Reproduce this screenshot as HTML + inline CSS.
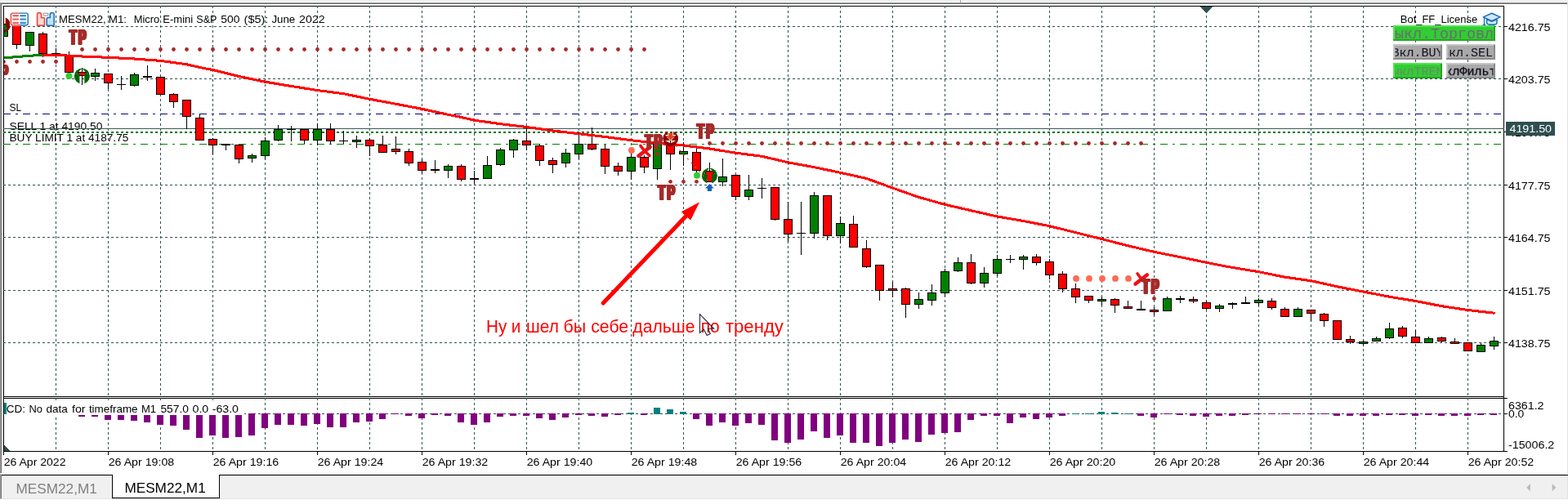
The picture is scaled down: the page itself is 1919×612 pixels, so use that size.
<!DOCTYPE html>
<html lang="ru"><head><meta charset="utf-8"><title>MESM22,M1</title>
<style>
html,body{margin:0;padding:0;background:#f0f0f0;overflow:hidden}
body{width:1919px;height:612px;position:relative;font-family:"Liberation Sans",Arial,sans-serif}
svg text{white-space:pre}
</style></head><body>
<svg width="1919" height="612" viewBox="0 0 1919 612" style="display:block;position:absolute;left:0;top:0">
<rect x="0" y="0" width="1919" height="612" fill="#f0f0f0"/>
<rect x="0" y="2" width="1175" height="1" fill="#fbfbfb"/>
<rect x="1175" y="0" width="1" height="3" fill="#a0a0a0"/>
<rect x="1176" y="0" width="1" height="3" fill="#ffffff"/>
<rect x="1178" y="1" width="6" height="2" fill="#f8f8f8"/>
<rect x="1" y="1" width="7" height="1" fill="#fbfbfb"/>
<rect x="0" y="3" width="1919" height="576" fill="#a0a0a0"/>
<rect x="1" y="4" width="1917" height="575" fill="#696969"/>
<rect x="2" y="5" width="1916" height="574" fill="#ffffff"/>
<rect x="1918" y="3" width="1" height="576" fill="#e3e3e3"/>
<g shape-rendering="crispEdges">
<rect x="4" y="7" width="1837" height="1" fill="#000"/>
<rect x="4" y="7" width="1" height="546" fill="#000"/>
<rect x="1840" y="7" width="1" height="546" fill="#000"/>
<rect x="4" y="485" width="1837" height="1" fill="#000"/>
<rect x="4" y="487" width="1837" height="1" fill="#000"/>
<rect x="4" y="552" width="1837" height="1" fill="#000"/>
<line x1="68.5" y1="7" x2="68.5" y2="485" stroke="#2f4f4f" stroke-width="1" stroke-dasharray="3 3" stroke-dashoffset="0"/>
<line x1="68.5" y1="487" x2="68.5" y2="552" stroke="#2f4f4f" stroke-width="1" stroke-dasharray="3 3" stroke-dashoffset="0"/>
<line x1="132.5" y1="7" x2="132.5" y2="485" stroke="#2f4f4f" stroke-width="1" stroke-dasharray="3 3" stroke-dashoffset="0"/>
<line x1="132.5" y1="487" x2="132.5" y2="552" stroke="#2f4f4f" stroke-width="1" stroke-dasharray="3 3" stroke-dashoffset="0"/>
<line x1="196.5" y1="7" x2="196.5" y2="485" stroke="#2f4f4f" stroke-width="1" stroke-dasharray="3 3" stroke-dashoffset="0"/>
<line x1="196.5" y1="487" x2="196.5" y2="552" stroke="#2f4f4f" stroke-width="1" stroke-dasharray="3 3" stroke-dashoffset="0"/>
<line x1="260.5" y1="7" x2="260.5" y2="485" stroke="#2f4f4f" stroke-width="1" stroke-dasharray="3 3" stroke-dashoffset="0"/>
<line x1="260.5" y1="487" x2="260.5" y2="552" stroke="#2f4f4f" stroke-width="1" stroke-dasharray="3 3" stroke-dashoffset="0"/>
<line x1="324.5" y1="7" x2="324.5" y2="485" stroke="#2f4f4f" stroke-width="1" stroke-dasharray="3 3" stroke-dashoffset="0"/>
<line x1="324.5" y1="487" x2="324.5" y2="552" stroke="#2f4f4f" stroke-width="1" stroke-dasharray="3 3" stroke-dashoffset="0"/>
<line x1="388.5" y1="7" x2="388.5" y2="485" stroke="#2f4f4f" stroke-width="1" stroke-dasharray="3 3" stroke-dashoffset="0"/>
<line x1="388.5" y1="487" x2="388.5" y2="552" stroke="#2f4f4f" stroke-width="1" stroke-dasharray="3 3" stroke-dashoffset="0"/>
<line x1="452.5" y1="7" x2="452.5" y2="485" stroke="#2f4f4f" stroke-width="1" stroke-dasharray="3 3" stroke-dashoffset="0"/>
<line x1="452.5" y1="487" x2="452.5" y2="552" stroke="#2f4f4f" stroke-width="1" stroke-dasharray="3 3" stroke-dashoffset="0"/>
<line x1="516.5" y1="7" x2="516.5" y2="485" stroke="#2f4f4f" stroke-width="1" stroke-dasharray="3 3" stroke-dashoffset="0"/>
<line x1="516.5" y1="487" x2="516.5" y2="552" stroke="#2f4f4f" stroke-width="1" stroke-dasharray="3 3" stroke-dashoffset="0"/>
<line x1="580.5" y1="7" x2="580.5" y2="485" stroke="#2f4f4f" stroke-width="1" stroke-dasharray="3 3" stroke-dashoffset="0"/>
<line x1="580.5" y1="487" x2="580.5" y2="552" stroke="#2f4f4f" stroke-width="1" stroke-dasharray="3 3" stroke-dashoffset="0"/>
<line x1="644.5" y1="7" x2="644.5" y2="485" stroke="#2f4f4f" stroke-width="1" stroke-dasharray="3 3" stroke-dashoffset="0"/>
<line x1="644.5" y1="487" x2="644.5" y2="552" stroke="#2f4f4f" stroke-width="1" stroke-dasharray="3 3" stroke-dashoffset="0"/>
<line x1="708.5" y1="7" x2="708.5" y2="485" stroke="#2f4f4f" stroke-width="1" stroke-dasharray="3 3" stroke-dashoffset="0"/>
<line x1="708.5" y1="487" x2="708.5" y2="552" stroke="#2f4f4f" stroke-width="1" stroke-dasharray="3 3" stroke-dashoffset="0"/>
<line x1="772.5" y1="7" x2="772.5" y2="485" stroke="#2f4f4f" stroke-width="1" stroke-dasharray="3 3" stroke-dashoffset="0"/>
<line x1="772.5" y1="487" x2="772.5" y2="552" stroke="#2f4f4f" stroke-width="1" stroke-dasharray="3 3" stroke-dashoffset="0"/>
<line x1="836.5" y1="7" x2="836.5" y2="485" stroke="#2f4f4f" stroke-width="1" stroke-dasharray="3 3" stroke-dashoffset="0"/>
<line x1="836.5" y1="487" x2="836.5" y2="552" stroke="#2f4f4f" stroke-width="1" stroke-dasharray="3 3" stroke-dashoffset="0"/>
<line x1="900.5" y1="7" x2="900.5" y2="485" stroke="#2f4f4f" stroke-width="1" stroke-dasharray="3 3" stroke-dashoffset="0"/>
<line x1="900.5" y1="487" x2="900.5" y2="552" stroke="#2f4f4f" stroke-width="1" stroke-dasharray="3 3" stroke-dashoffset="0"/>
<line x1="964.5" y1="7" x2="964.5" y2="485" stroke="#2f4f4f" stroke-width="1" stroke-dasharray="3 3" stroke-dashoffset="0"/>
<line x1="964.5" y1="487" x2="964.5" y2="552" stroke="#2f4f4f" stroke-width="1" stroke-dasharray="3 3" stroke-dashoffset="0"/>
<line x1="1028.5" y1="7" x2="1028.5" y2="485" stroke="#2f4f4f" stroke-width="1" stroke-dasharray="3 3" stroke-dashoffset="0"/>
<line x1="1028.5" y1="487" x2="1028.5" y2="552" stroke="#2f4f4f" stroke-width="1" stroke-dasharray="3 3" stroke-dashoffset="0"/>
<line x1="1092.5" y1="7" x2="1092.5" y2="485" stroke="#2f4f4f" stroke-width="1" stroke-dasharray="3 3" stroke-dashoffset="0"/>
<line x1="1092.5" y1="487" x2="1092.5" y2="552" stroke="#2f4f4f" stroke-width="1" stroke-dasharray="3 3" stroke-dashoffset="0"/>
<line x1="1156.5" y1="7" x2="1156.5" y2="485" stroke="#2f4f4f" stroke-width="1" stroke-dasharray="3 3" stroke-dashoffset="0"/>
<line x1="1156.5" y1="487" x2="1156.5" y2="552" stroke="#2f4f4f" stroke-width="1" stroke-dasharray="3 3" stroke-dashoffset="0"/>
<line x1="1220.5" y1="7" x2="1220.5" y2="485" stroke="#2f4f4f" stroke-width="1" stroke-dasharray="3 3" stroke-dashoffset="0"/>
<line x1="1220.5" y1="487" x2="1220.5" y2="552" stroke="#2f4f4f" stroke-width="1" stroke-dasharray="3 3" stroke-dashoffset="0"/>
<line x1="1284.5" y1="7" x2="1284.5" y2="485" stroke="#2f4f4f" stroke-width="1" stroke-dasharray="3 3" stroke-dashoffset="0"/>
<line x1="1284.5" y1="487" x2="1284.5" y2="552" stroke="#2f4f4f" stroke-width="1" stroke-dasharray="3 3" stroke-dashoffset="0"/>
<line x1="1348.5" y1="7" x2="1348.5" y2="485" stroke="#2f4f4f" stroke-width="1" stroke-dasharray="3 3" stroke-dashoffset="0"/>
<line x1="1348.5" y1="487" x2="1348.5" y2="552" stroke="#2f4f4f" stroke-width="1" stroke-dasharray="3 3" stroke-dashoffset="0"/>
<line x1="1412.5" y1="7" x2="1412.5" y2="485" stroke="#2f4f4f" stroke-width="1" stroke-dasharray="3 3" stroke-dashoffset="0"/>
<line x1="1412.5" y1="487" x2="1412.5" y2="552" stroke="#2f4f4f" stroke-width="1" stroke-dasharray="3 3" stroke-dashoffset="0"/>
<line x1="1476.5" y1="7" x2="1476.5" y2="485" stroke="#2f4f4f" stroke-width="1" stroke-dasharray="3 3" stroke-dashoffset="0"/>
<line x1="1476.5" y1="487" x2="1476.5" y2="552" stroke="#2f4f4f" stroke-width="1" stroke-dasharray="3 3" stroke-dashoffset="0"/>
<line x1="1540.5" y1="7" x2="1540.5" y2="485" stroke="#2f4f4f" stroke-width="1" stroke-dasharray="3 3" stroke-dashoffset="0"/>
<line x1="1540.5" y1="487" x2="1540.5" y2="552" stroke="#2f4f4f" stroke-width="1" stroke-dasharray="3 3" stroke-dashoffset="0"/>
<line x1="1604.5" y1="7" x2="1604.5" y2="485" stroke="#2f4f4f" stroke-width="1" stroke-dasharray="3 3" stroke-dashoffset="0"/>
<line x1="1604.5" y1="487" x2="1604.5" y2="552" stroke="#2f4f4f" stroke-width="1" stroke-dasharray="3 3" stroke-dashoffset="0"/>
<line x1="1668.5" y1="7" x2="1668.5" y2="485" stroke="#2f4f4f" stroke-width="1" stroke-dasharray="3 3" stroke-dashoffset="0"/>
<line x1="1668.5" y1="487" x2="1668.5" y2="552" stroke="#2f4f4f" stroke-width="1" stroke-dasharray="3 3" stroke-dashoffset="0"/>
<line x1="1732.5" y1="7" x2="1732.5" y2="485" stroke="#2f4f4f" stroke-width="1" stroke-dasharray="3 3" stroke-dashoffset="0"/>
<line x1="1732.5" y1="487" x2="1732.5" y2="552" stroke="#2f4f4f" stroke-width="1" stroke-dasharray="3 3" stroke-dashoffset="0"/>
<line x1="1796.5" y1="7" x2="1796.5" y2="485" stroke="#2f4f4f" stroke-width="1" stroke-dasharray="3 3" stroke-dashoffset="0"/>
<line x1="1796.5" y1="487" x2="1796.5" y2="552" stroke="#2f4f4f" stroke-width="1" stroke-dasharray="3 3" stroke-dashoffset="0"/>
<line x1="4" y1="32.5" x2="1840" y2="32.5" stroke="#2f4f4f" stroke-width="1" stroke-dasharray="3 3"/>
<line x1="4" y1="96.5" x2="1840" y2="96.5" stroke="#2f4f4f" stroke-width="1" stroke-dasharray="3 3"/>
<line x1="4" y1="161.5" x2="1840" y2="161.5" stroke="#2f4f4f" stroke-width="1" stroke-dasharray="3 3"/>
<line x1="4" y1="226.5" x2="1840" y2="226.5" stroke="#2f4f4f" stroke-width="1" stroke-dasharray="3 3"/>
<line x1="4" y1="290.5" x2="1840" y2="290.5" stroke="#2f4f4f" stroke-width="1" stroke-dasharray="3 3"/>
<line x1="4" y1="355.5" x2="1840" y2="355.5" stroke="#2f4f4f" stroke-width="1" stroke-dasharray="3 3"/>
<line x1="4" y1="419.5" x2="1840" y2="419.5" stroke="#2f4f4f" stroke-width="1" stroke-dasharray="3 3"/>
</g>
<text x="72.1" y="28.3" font-family="&quot;Liberation Sans&quot;, Arial, sans-serif" font-size="13" fill="#000" text-anchor="start" textLength="57.5" lengthAdjust="spacingAndGlyphs" xml:space="preserve">MESM22,</text>
<text x="132.7" y="28.3" font-family="&quot;Liberation Sans&quot;, Arial, sans-serif" font-size="13" fill="#000" text-anchor="start" textLength="22.4" lengthAdjust="spacingAndGlyphs" xml:space="preserve">M1:</text>
<text x="163.7" y="28.3" font-family="&quot;Liberation Sans&quot;, Arial, sans-serif" font-size="13" fill="#000" text-anchor="start" textLength="31.6" lengthAdjust="spacingAndGlyphs" xml:space="preserve">Micro</text>
<text x="199.2" y="28.3" font-family="&quot;Liberation Sans&quot;, Arial, sans-serif" font-size="13" fill="#000" text-anchor="start" textLength="37.1" lengthAdjust="spacingAndGlyphs" xml:space="preserve">E-mini</text>
<text x="240.3" y="28.3" font-family="&quot;Liberation Sans&quot;, Arial, sans-serif" font-size="13" fill="#000" text-anchor="start" textLength="25.2" lengthAdjust="spacingAndGlyphs" xml:space="preserve">S&amp;P</text>
<text x="270.3" y="28.3" font-family="&quot;Liberation Sans&quot;, Arial, sans-serif" font-size="13" fill="#000" text-anchor="start" textLength="23.1" lengthAdjust="spacingAndGlyphs" xml:space="preserve">500</text>
<text x="298.6" y="28.3" font-family="&quot;Liberation Sans&quot;, Arial, sans-serif" font-size="13" fill="#000" text-anchor="start" textLength="29.8" lengthAdjust="spacingAndGlyphs" xml:space="preserve">($5):</text>
<text x="332.4" y="28.3" font-family="&quot;Liberation Sans&quot;, Arial, sans-serif" font-size="13" fill="#000" text-anchor="start" textLength="28.9" lengthAdjust="spacingAndGlyphs" xml:space="preserve">June</text>
<text x="366.1" y="28.3" font-family="&quot;Liberation Sans&quot;, Arial, sans-serif" font-size="13" fill="#000" text-anchor="start" textLength="31.6" lengthAdjust="spacingAndGlyphs" xml:space="preserve">2022</text>
<text x="11.5" y="136" font-family="&quot;Liberation Sans&quot;, Arial, sans-serif" font-size="13" fill="#000" text-anchor="start" textLength="14.7" lengthAdjust="spacingAndGlyphs" xml:space="preserve">SL</text>
<text x="11.5" y="159" font-family="&quot;Liberation Sans&quot;, Arial, sans-serif" font-size="13" fill="#000" text-anchor="start" textLength="113.8" lengthAdjust="spacingAndGlyphs" xml:space="preserve">SELL 1 at 4190.50</text>
<text x="11.5" y="173" font-family="&quot;Liberation Sans&quot;, Arial, sans-serif" font-size="13" fill="#000" text-anchor="start" textLength="145.8" lengthAdjust="spacingAndGlyphs" xml:space="preserve">BUY LIMIT 1 at 4187.75</text>
<clipPath id="chartclip"><rect x="5" y="8" width="1835" height="477"/></clipPath>
<g shape-rendering="crispEdges">
<line x1="4" y1="139.5" x2="1840" y2="139.5" stroke="#00008b" stroke-width="1" stroke-dasharray="9 6 3 6"/>
<line x1="4" y1="157.5" x2="1841" y2="157.5" stroke="#3a5a5a" stroke-width="1"/>
<line x1="4" y1="161.5" x2="1840" y2="161.5" stroke="#0a6a1a" stroke-width="1" stroke-dasharray="3 3"/>
<line x1="4" y1="162.5" x2="1840" y2="162.5" stroke="#008000" stroke-width="1" stroke-dasharray="3 3"/>
<line x1="4" y1="176.5" x2="1840" y2="176.5" stroke="#008000" stroke-width="1" stroke-dasharray="9 6 3 6"/>
<g clip-path="url(#chartclip)">
<rect x="4" y="29" width="1" height="16" fill="#000"/>
<rect x="-1" y="29" width="11" height="16" fill="#000"/>
<rect x="0" y="30" width="9" height="14" fill="#008000"/>
<rect x="20" y="20" width="1" height="40" fill="#000"/>
<rect x="15" y="20" width="11" height="35" fill="#000"/>
<rect x="16" y="21" width="9" height="33" fill="#ff0000"/>
<rect x="36" y="39" width="1" height="24" fill="#000"/>
<rect x="31" y="39" width="11" height="17" fill="#000"/>
<rect x="32" y="40" width="9" height="15" fill="#008000"/>
<rect x="52" y="39" width="1" height="31" fill="#000"/>
<rect x="47" y="41" width="11" height="25" fill="#000"/>
<rect x="48" y="42" width="9" height="23" fill="#ff0000"/>
<rect x="68" y="59" width="1" height="12" fill="#000"/>
<rect x="63" y="65" width="11" height="1" fill="#000"/>
<rect x="84" y="63" width="1" height="26" fill="#000"/>
<rect x="79" y="67" width="11" height="22" fill="#000"/>
<rect x="80" y="68" width="9" height="20" fill="#ff0000"/>
<rect x="100" y="83" width="1" height="21" fill="#000"/>
<rect x="95" y="88" width="11" height="5" fill="#000"/>
<rect x="96" y="89" width="9" height="3" fill="#ff0000"/>
<rect x="116" y="84" width="1" height="15" fill="#000"/>
<rect x="111" y="89" width="11" height="5" fill="#000"/>
<rect x="112" y="90" width="9" height="3" fill="#008000"/>
<rect x="132" y="90" width="1" height="19" fill="#000"/>
<rect x="127" y="90" width="11" height="12" fill="#000"/>
<rect x="128" y="91" width="9" height="10" fill="#ff0000"/>
<rect x="148" y="93" width="1" height="17" fill="#000"/>
<rect x="143" y="103" width="11" height="1" fill="#000"/>
<rect x="164" y="89" width="1" height="17" fill="#000"/>
<rect x="159" y="91" width="11" height="14" fill="#000"/>
<rect x="160" y="92" width="9" height="12" fill="#008000"/>
<rect x="180" y="80" width="1" height="19" fill="#000"/>
<rect x="175" y="93" width="11" height="2" fill="#000"/>
<rect x="196" y="94" width="1" height="22" fill="#000"/>
<rect x="191" y="94" width="11" height="22" fill="#000"/>
<rect x="192" y="95" width="9" height="20" fill="#ff0000"/>
<rect x="212" y="114" width="1" height="18" fill="#000"/>
<rect x="207" y="115" width="11" height="10" fill="#000"/>
<rect x="208" y="116" width="9" height="8" fill="#ff0000"/>
<rect x="228" y="122" width="1" height="36" fill="#000"/>
<rect x="223" y="122" width="11" height="21" fill="#000"/>
<rect x="224" y="123" width="9" height="19" fill="#ff0000"/>
<rect x="244" y="140" width="1" height="32" fill="#000"/>
<rect x="239" y="144" width="11" height="28" fill="#000"/>
<rect x="240" y="145" width="9" height="26" fill="#ff0000"/>
<rect x="260" y="169" width="1" height="20" fill="#000"/>
<rect x="255" y="170" width="11" height="8" fill="#000"/>
<rect x="256" y="171" width="9" height="6" fill="#ff0000"/>
<rect x="276" y="177" width="1" height="7" fill="#000"/>
<rect x="271" y="176" width="11" height="2" fill="#000"/>
<rect x="292" y="177" width="1" height="23" fill="#000"/>
<rect x="287" y="177" width="11" height="18" fill="#000"/>
<rect x="288" y="178" width="9" height="16" fill="#ff0000"/>
<rect x="308" y="188" width="1" height="11" fill="#000"/>
<rect x="303" y="190" width="11" height="4" fill="#000"/>
<rect x="304" y="191" width="9" height="2" fill="#008000"/>
<rect x="324" y="168" width="1" height="27" fill="#000"/>
<rect x="319" y="172" width="11" height="19" fill="#000"/>
<rect x="320" y="173" width="9" height="17" fill="#008000"/>
<rect x="340" y="153" width="1" height="20" fill="#000"/>
<rect x="335" y="158" width="11" height="14" fill="#000"/>
<rect x="336" y="159" width="9" height="12" fill="#008000"/>
<rect x="356" y="154" width="1" height="19" fill="#000"/>
<rect x="351" y="158" width="11" height="1" fill="#000"/>
<rect x="372" y="158" width="1" height="18" fill="#000"/>
<rect x="367" y="158" width="11" height="14" fill="#000"/>
<rect x="368" y="159" width="9" height="12" fill="#ff0000"/>
<rect x="388" y="151" width="1" height="27" fill="#000"/>
<rect x="383" y="158" width="11" height="14" fill="#000"/>
<rect x="384" y="159" width="9" height="12" fill="#008000"/>
<rect x="404" y="151" width="1" height="25" fill="#000"/>
<rect x="399" y="158" width="11" height="15" fill="#000"/>
<rect x="400" y="159" width="9" height="13" fill="#ff0000"/>
<rect x="420" y="160" width="1" height="16" fill="#000"/>
<rect x="415" y="172" width="11" height="1" fill="#000"/>
<rect x="436" y="166" width="1" height="15" fill="#000"/>
<rect x="431" y="171" width="11" height="3" fill="#000"/>
<rect x="432" y="172" width="9" height="1" fill="#008000"/>
<rect x="452" y="169" width="1" height="22" fill="#000"/>
<rect x="447" y="171" width="11" height="8" fill="#000"/>
<rect x="448" y="172" width="9" height="6" fill="#ff0000"/>
<rect x="468" y="166" width="1" height="21" fill="#000"/>
<rect x="463" y="177" width="11" height="10" fill="#000"/>
<rect x="464" y="178" width="9" height="8" fill="#ff0000"/>
<rect x="484" y="167" width="1" height="22" fill="#000"/>
<rect x="479" y="182" width="11" height="4" fill="#000"/>
<rect x="480" y="183" width="9" height="2" fill="#ff0000"/>
<rect x="500" y="182" width="1" height="21" fill="#000"/>
<rect x="495" y="185" width="11" height="15" fill="#000"/>
<rect x="496" y="186" width="9" height="13" fill="#ff0000"/>
<rect x="516" y="195" width="1" height="17" fill="#000"/>
<rect x="511" y="198" width="11" height="11" fill="#000"/>
<rect x="512" y="199" width="9" height="9" fill="#ff0000"/>
<rect x="532" y="196" width="1" height="16" fill="#000"/>
<rect x="527" y="207" width="11" height="2" fill="#000"/>
<rect x="548" y="201" width="1" height="17" fill="#000"/>
<rect x="543" y="203" width="11" height="6" fill="#000"/>
<rect x="544" y="204" width="9" height="4" fill="#008000"/>
<rect x="564" y="201" width="1" height="21" fill="#000"/>
<rect x="559" y="203" width="11" height="17" fill="#000"/>
<rect x="560" y="204" width="9" height="15" fill="#ff0000"/>
<rect x="580" y="209" width="1" height="16" fill="#000"/>
<rect x="575" y="218" width="11" height="2" fill="#000"/>
<rect x="596" y="191" width="1" height="28" fill="#000"/>
<rect x="591" y="202" width="11" height="17" fill="#000"/>
<rect x="592" y="203" width="9" height="15" fill="#008000"/>
<rect x="612" y="181" width="1" height="22" fill="#000"/>
<rect x="607" y="183" width="11" height="19" fill="#000"/>
<rect x="608" y="184" width="9" height="17" fill="#008000"/>
<rect x="628" y="170" width="1" height="23" fill="#000"/>
<rect x="623" y="171" width="11" height="13" fill="#000"/>
<rect x="624" y="172" width="9" height="11" fill="#008000"/>
<rect x="644" y="156" width="1" height="28" fill="#000"/>
<rect x="639" y="172" width="11" height="6" fill="#000"/>
<rect x="640" y="173" width="9" height="4" fill="#ff0000"/>
<rect x="660" y="176" width="1" height="27" fill="#000"/>
<rect x="655" y="178" width="11" height="19" fill="#000"/>
<rect x="656" y="179" width="9" height="17" fill="#ff0000"/>
<rect x="676" y="193" width="1" height="19" fill="#000"/>
<rect x="671" y="196" width="11" height="6" fill="#000"/>
<rect x="672" y="197" width="9" height="4" fill="#ff0000"/>
<rect x="692" y="182" width="1" height="23" fill="#000"/>
<rect x="687" y="187" width="11" height="13" fill="#000"/>
<rect x="688" y="188" width="9" height="11" fill="#008000"/>
<rect x="708" y="164" width="1" height="31" fill="#000"/>
<rect x="703" y="176" width="11" height="13" fill="#000"/>
<rect x="704" y="177" width="9" height="11" fill="#008000"/>
<rect x="724" y="156" width="1" height="28" fill="#000"/>
<rect x="719" y="176" width="11" height="7" fill="#000"/>
<rect x="720" y="177" width="9" height="5" fill="#ff0000"/>
<rect x="740" y="177" width="1" height="36" fill="#000"/>
<rect x="735" y="182" width="11" height="22" fill="#000"/>
<rect x="736" y="183" width="9" height="20" fill="#ff0000"/>
<rect x="756" y="199" width="1" height="16" fill="#000"/>
<rect x="751" y="203" width="11" height="7" fill="#000"/>
<rect x="752" y="204" width="9" height="5" fill="#ff0000"/>
<rect x="772" y="188" width="1" height="32" fill="#000"/>
<rect x="767" y="192" width="11" height="18" fill="#000"/>
<rect x="768" y="193" width="9" height="16" fill="#008000"/>
<rect x="788" y="190" width="1" height="22" fill="#000"/>
<rect x="783" y="192" width="11" height="13" fill="#000"/>
<rect x="784" y="193" width="9" height="11" fill="#ff0000"/>
<rect x="804" y="176" width="1" height="44" fill="#000"/>
<rect x="799" y="176" width="11" height="31" fill="#000"/>
<rect x="800" y="177" width="9" height="29" fill="#008000"/>
<rect x="820" y="172" width="1" height="36" fill="#000"/>
<rect x="815" y="177" width="11" height="12" fill="#000"/>
<rect x="816" y="178" width="9" height="10" fill="#ff0000"/>
<rect x="836" y="174" width="1" height="29" fill="#000"/>
<rect x="831" y="185" width="11" height="4" fill="#000"/>
<rect x="832" y="186" width="9" height="2" fill="#008000"/>
<rect x="852" y="180" width="1" height="31" fill="#000"/>
<rect x="847" y="186" width="11" height="23" fill="#000"/>
<rect x="848" y="187" width="9" height="21" fill="#ff0000"/>
<rect x="868" y="199" width="1" height="24" fill="#000"/>
<rect x="863" y="209" width="11" height="14" fill="#000"/>
<rect x="864" y="210" width="9" height="12" fill="#ff0000"/>
<rect x="884" y="194" width="1" height="34" fill="#000"/>
<rect x="879" y="216" width="11" height="7" fill="#000"/>
<rect x="880" y="217" width="9" height="5" fill="#008000"/>
<rect x="900" y="214" width="1" height="31" fill="#000"/>
<rect x="895" y="214" width="11" height="27" fill="#000"/>
<rect x="896" y="215" width="9" height="25" fill="#ff0000"/>
<rect x="916" y="214" width="1" height="31" fill="#000"/>
<rect x="911" y="232" width="11" height="9" fill="#000"/>
<rect x="912" y="233" width="9" height="7" fill="#008000"/>
<rect x="932" y="218" width="1" height="25" fill="#000"/>
<rect x="927" y="230" width="11" height="1" fill="#000"/>
<rect x="948" y="229" width="1" height="41" fill="#000"/>
<rect x="943" y="229" width="11" height="40" fill="#000"/>
<rect x="944" y="230" width="9" height="38" fill="#ff0000"/>
<rect x="964" y="247" width="1" height="49" fill="#000"/>
<rect x="959" y="268" width="11" height="19" fill="#000"/>
<rect x="960" y="269" width="9" height="17" fill="#ff0000"/>
<rect x="980" y="247" width="1" height="65" fill="#000"/>
<rect x="975" y="285" width="11" height="1" fill="#000"/>
<rect x="996" y="235" width="1" height="57" fill="#000"/>
<rect x="991" y="239" width="11" height="47" fill="#000"/>
<rect x="992" y="240" width="9" height="45" fill="#008000"/>
<rect x="1012" y="239" width="1" height="55" fill="#000"/>
<rect x="1007" y="239" width="11" height="50" fill="#000"/>
<rect x="1008" y="240" width="9" height="48" fill="#ff0000"/>
<rect x="1028" y="265" width="1" height="33" fill="#000"/>
<rect x="1023" y="273" width="11" height="16" fill="#000"/>
<rect x="1024" y="274" width="9" height="14" fill="#008000"/>
<rect x="1044" y="264" width="1" height="39" fill="#000"/>
<rect x="1039" y="274" width="11" height="29" fill="#000"/>
<rect x="1040" y="275" width="9" height="27" fill="#ff0000"/>
<rect x="1060" y="294" width="1" height="34" fill="#000"/>
<rect x="1055" y="304" width="11" height="23" fill="#000"/>
<rect x="1056" y="305" width="9" height="21" fill="#ff0000"/>
<rect x="1076" y="324" width="1" height="44" fill="#000"/>
<rect x="1071" y="324" width="11" height="32" fill="#000"/>
<rect x="1072" y="325" width="9" height="30" fill="#ff0000"/>
<rect x="1092" y="345" width="1" height="19" fill="#000"/>
<rect x="1087" y="353" width="11" height="3" fill="#000"/>
<rect x="1088" y="354" width="9" height="1" fill="#ff0000"/>
<rect x="1108" y="352" width="1" height="37" fill="#000"/>
<rect x="1103" y="353" width="11" height="20" fill="#000"/>
<rect x="1104" y="354" width="9" height="18" fill="#ff0000"/>
<rect x="1124" y="358" width="1" height="20" fill="#000"/>
<rect x="1119" y="366" width="11" height="7" fill="#000"/>
<rect x="1120" y="367" width="9" height="5" fill="#008000"/>
<rect x="1140" y="348" width="1" height="26" fill="#000"/>
<rect x="1135" y="358" width="11" height="10" fill="#000"/>
<rect x="1136" y="359" width="9" height="8" fill="#008000"/>
<rect x="1156" y="329" width="1" height="34" fill="#000"/>
<rect x="1151" y="332" width="11" height="27" fill="#000"/>
<rect x="1152" y="333" width="9" height="25" fill="#008000"/>
<rect x="1172" y="315" width="1" height="18" fill="#000"/>
<rect x="1167" y="321" width="11" height="11" fill="#000"/>
<rect x="1168" y="322" width="9" height="9" fill="#008000"/>
<rect x="1188" y="311" width="1" height="37" fill="#000"/>
<rect x="1183" y="321" width="11" height="26" fill="#000"/>
<rect x="1184" y="322" width="9" height="24" fill="#ff0000"/>
<rect x="1204" y="327" width="1" height="25" fill="#000"/>
<rect x="1199" y="334" width="11" height="13" fill="#000"/>
<rect x="1200" y="335" width="9" height="11" fill="#008000"/>
<rect x="1220" y="312" width="1" height="26" fill="#000"/>
<rect x="1215" y="317" width="11" height="18" fill="#000"/>
<rect x="1216" y="318" width="9" height="16" fill="#008000"/>
<rect x="1236" y="312" width="1" height="10" fill="#000"/>
<rect x="1231" y="317" width="11" height="1" fill="#000"/>
<rect x="1252" y="312" width="1" height="18" fill="#000"/>
<rect x="1247" y="314" width="11" height="4" fill="#000"/>
<rect x="1248" y="315" width="9" height="2" fill="#008000"/>
<rect x="1268" y="311" width="1" height="14" fill="#000"/>
<rect x="1263" y="314" width="11" height="8" fill="#000"/>
<rect x="1264" y="315" width="9" height="6" fill="#ff0000"/>
<rect x="1284" y="317" width="1" height="25" fill="#000"/>
<rect x="1279" y="320" width="11" height="17" fill="#000"/>
<rect x="1280" y="321" width="9" height="15" fill="#ff0000"/>
<rect x="1300" y="332" width="1" height="26" fill="#000"/>
<rect x="1295" y="335" width="11" height="19" fill="#000"/>
<rect x="1296" y="336" width="9" height="17" fill="#ff0000"/>
<rect x="1316" y="347" width="1" height="24" fill="#000"/>
<rect x="1311" y="353" width="11" height="11" fill="#000"/>
<rect x="1312" y="354" width="9" height="9" fill="#ff0000"/>
<rect x="1332" y="362" width="1" height="9" fill="#000"/>
<rect x="1327" y="362" width="11" height="6" fill="#000"/>
<rect x="1328" y="363" width="9" height="4" fill="#ff0000"/>
<rect x="1348" y="363" width="1" height="11" fill="#000"/>
<rect x="1343" y="366" width="11" height="3" fill="#000"/>
<rect x="1344" y="367" width="9" height="1" fill="#008000"/>
<rect x="1364" y="365" width="1" height="18" fill="#000"/>
<rect x="1359" y="366" width="11" height="8" fill="#000"/>
<rect x="1360" y="367" width="9" height="6" fill="#ff0000"/>
<rect x="1380" y="368" width="1" height="10" fill="#000"/>
<rect x="1375" y="375" width="11" height="3" fill="#000"/>
<rect x="1376" y="376" width="9" height="1" fill="#ff0000"/>
<rect x="1396" y="368" width="1" height="11" fill="#000"/>
<rect x="1391" y="378" width="11" height="2" fill="#000"/>
<rect x="1412" y="376" width="1" height="10" fill="#000"/>
<rect x="1407" y="379" width="11" height="3" fill="#000"/>
<rect x="1408" y="380" width="9" height="1" fill="#ff0000"/>
<rect x="1428" y="363" width="1" height="18" fill="#000"/>
<rect x="1423" y="365" width="11" height="16" fill="#000"/>
<rect x="1424" y="366" width="9" height="14" fill="#008000"/>
<rect x="1444" y="362" width="1" height="9" fill="#000"/>
<rect x="1439" y="365" width="11" height="2" fill="#000"/>
<rect x="1460" y="363" width="1" height="8" fill="#000"/>
<rect x="1455" y="366" width="11" height="3" fill="#000"/>
<rect x="1456" y="367" width="9" height="1" fill="#ff0000"/>
<rect x="1476" y="368" width="1" height="11" fill="#000"/>
<rect x="1471" y="370" width="11" height="8" fill="#000"/>
<rect x="1472" y="371" width="9" height="6" fill="#ff0000"/>
<rect x="1492" y="372" width="1" height="10" fill="#000"/>
<rect x="1487" y="374" width="11" height="4" fill="#000"/>
<rect x="1488" y="375" width="9" height="2" fill="#008000"/>
<rect x="1508" y="370" width="1" height="8" fill="#000"/>
<rect x="1503" y="371" width="11" height="2" fill="#000"/>
<rect x="1524" y="363" width="1" height="9" fill="#000"/>
<rect x="1519" y="370" width="11" height="2" fill="#000"/>
<rect x="1540" y="365" width="1" height="9" fill="#000"/>
<rect x="1535" y="367" width="11" height="4" fill="#000"/>
<rect x="1536" y="368" width="9" height="2" fill="#008000"/>
<rect x="1556" y="365" width="1" height="14" fill="#000"/>
<rect x="1551" y="368" width="11" height="9" fill="#000"/>
<rect x="1552" y="369" width="9" height="7" fill="#ff0000"/>
<rect x="1572" y="376" width="1" height="12" fill="#000"/>
<rect x="1567" y="378" width="11" height="10" fill="#000"/>
<rect x="1568" y="379" width="9" height="8" fill="#ff0000"/>
<rect x="1588" y="376" width="1" height="12" fill="#000"/>
<rect x="1583" y="378" width="11" height="10" fill="#000"/>
<rect x="1584" y="379" width="9" height="8" fill="#008000"/>
<rect x="1604" y="379" width="1" height="14" fill="#000"/>
<rect x="1599" y="379" width="11" height="5" fill="#000"/>
<rect x="1600" y="380" width="9" height="3" fill="#ff0000"/>
<rect x="1620" y="383" width="1" height="17" fill="#000"/>
<rect x="1615" y="384" width="11" height="9" fill="#000"/>
<rect x="1616" y="385" width="9" height="7" fill="#ff0000"/>
<rect x="1636" y="392" width="1" height="24" fill="#000"/>
<rect x="1631" y="392" width="11" height="24" fill="#000"/>
<rect x="1632" y="393" width="9" height="22" fill="#ff0000"/>
<rect x="1652" y="411" width="1" height="10" fill="#000"/>
<rect x="1647" y="415" width="11" height="4" fill="#000"/>
<rect x="1648" y="416" width="9" height="2" fill="#ff0000"/>
<rect x="1668" y="416" width="1" height="7" fill="#000"/>
<rect x="1663" y="418" width="11" height="3" fill="#000"/>
<rect x="1664" y="419" width="9" height="1" fill="#008000"/>
<rect x="1684" y="412" width="1" height="6" fill="#000"/>
<rect x="1679" y="414" width="11" height="4" fill="#000"/>
<rect x="1680" y="415" width="9" height="2" fill="#008000"/>
<rect x="1700" y="395" width="1" height="20" fill="#000"/>
<rect x="1695" y="402" width="11" height="12" fill="#000"/>
<rect x="1696" y="403" width="9" height="10" fill="#008000"/>
<rect x="1716" y="399" width="1" height="15" fill="#000"/>
<rect x="1711" y="401" width="11" height="11" fill="#000"/>
<rect x="1712" y="402" width="9" height="9" fill="#ff0000"/>
<rect x="1732" y="404" width="1" height="16" fill="#000"/>
<rect x="1727" y="412" width="11" height="8" fill="#000"/>
<rect x="1728" y="413" width="9" height="6" fill="#ff0000"/>
<rect x="1748" y="412" width="1" height="8" fill="#000"/>
<rect x="1743" y="414" width="11" height="6" fill="#000"/>
<rect x="1744" y="415" width="9" height="4" fill="#008000"/>
<rect x="1764" y="412" width="1" height="7" fill="#000"/>
<rect x="1759" y="413" width="11" height="5" fill="#000"/>
<rect x="1760" y="414" width="9" height="3" fill="#ff0000"/>
<rect x="1780" y="414" width="1" height="6" fill="#000"/>
<rect x="1775" y="418" width="11" height="3" fill="#000"/>
<rect x="1776" y="419" width="9" height="1" fill="#ff0000"/>
<rect x="1796" y="420" width="1" height="10" fill="#000"/>
<rect x="1791" y="419" width="11" height="11" fill="#000"/>
<rect x="1792" y="420" width="9" height="9" fill="#ff0000"/>
<rect x="1812" y="420" width="1" height="11" fill="#000"/>
<rect x="1807" y="422" width="11" height="9" fill="#000"/>
<rect x="1808" y="423" width="9" height="7" fill="#008000"/>
<rect x="1828" y="412" width="1" height="16" fill="#000"/>
<rect x="1823" y="417" width="11" height="7" fill="#000"/>
<rect x="1824" y="418" width="9" height="5" fill="#008000"/>
</g>
</g>
<clipPath id="chartclip2"><rect x="5" y="8" width="1835" height="477"/></clipPath>
<g clip-path="url(#chartclip2)">
<polyline points="4,70.9 28,69.0 52,67.1 68.4,67.3 100,69 132,70.3 164,72 196.5,74.4 228,78.7 250,83.7 260.5,85.5 292.5,93.5 324.5,100.2 356.7,105.5 388.3,110.5 420.3,114.7 452.5,121.3 484.2,127.2 516.3,133.3 548.3,140.3 560,142.5 580.5,147.2 612.5,151.7 644.5,155.5 676.7,160 708.3,163.7 740.5,167.5 772.5,171.7 804.5,175.3 836.5,178 868.3,182 900.5,187.2 932.5,191.3 964.5,198.8 996.7,204.7 1028.3,211.3 1060,218.3 1092.2,230 1124.2,241.3 1156.3,250.3 1180,255.8 1220.5,265 1252.5,270.5 1284.5,276.7 1316.7,284.7 1348.3,292.5 1380.5,300.8 1412.5,308.3 1444.5,314.7 1476.3,321.3 1500,326 1540.4,332.7 1572.6,339.2 1604.5,343.7 1636.4,350.8 1668.3,357 1700.2,363.2 1732.5,368.5 1764.5,374.7 1796.4,379.5 1829.6,383.3" fill="none" stroke="#ff0000" stroke-width="3.05" stroke-linejoin="round" stroke-linecap="butt" shape-rendering="crispEdges"/>
<polyline points="4,70.9 28,69.0 52,67.1" fill="none" stroke="#008000" stroke-width="3" shape-rendering="crispEdges"/>
<circle cx="100.5" cy="60.5" r="2.4" fill="#a52a2a"/>
<circle cx="116.5" cy="60.5" r="2.4" fill="#a52a2a"/>
<circle cx="132.5" cy="60.5" r="2.4" fill="#a52a2a"/>
<circle cx="148.5" cy="60.5" r="2.4" fill="#a52a2a"/>
<circle cx="164.5" cy="60.5" r="2.4" fill="#a52a2a"/>
<circle cx="180.5" cy="60.5" r="2.4" fill="#a52a2a"/>
<circle cx="196.5" cy="60.5" r="2.4" fill="#a52a2a"/>
<circle cx="212.5" cy="60.5" r="2.4" fill="#a52a2a"/>
<circle cx="228.5" cy="60.5" r="2.4" fill="#a52a2a"/>
<circle cx="244.5" cy="60.5" r="2.4" fill="#a52a2a"/>
<circle cx="260.5" cy="60.5" r="2.4" fill="#a52a2a"/>
<circle cx="276.5" cy="60.5" r="2.4" fill="#a52a2a"/>
<circle cx="292.5" cy="60.5" r="2.4" fill="#a52a2a"/>
<circle cx="308.5" cy="60.5" r="2.4" fill="#a52a2a"/>
<circle cx="324.5" cy="60.5" r="2.4" fill="#a52a2a"/>
<circle cx="340.5" cy="60.5" r="2.4" fill="#a52a2a"/>
<circle cx="356.5" cy="60.5" r="2.4" fill="#a52a2a"/>
<circle cx="372.5" cy="60.5" r="2.4" fill="#a52a2a"/>
<circle cx="388.5" cy="60.5" r="2.4" fill="#a52a2a"/>
<circle cx="404.5" cy="60.5" r="2.4" fill="#a52a2a"/>
<circle cx="420.5" cy="60.5" r="2.4" fill="#a52a2a"/>
<circle cx="436.5" cy="60.5" r="2.4" fill="#a52a2a"/>
<circle cx="452.5" cy="60.5" r="2.4" fill="#a52a2a"/>
<circle cx="468.5" cy="60.5" r="2.4" fill="#a52a2a"/>
<circle cx="484.5" cy="60.5" r="2.4" fill="#a52a2a"/>
<circle cx="500.5" cy="60.5" r="2.4" fill="#a52a2a"/>
<circle cx="516.5" cy="60.5" r="2.4" fill="#a52a2a"/>
<circle cx="532.5" cy="60.5" r="2.4" fill="#a52a2a"/>
<circle cx="548.5" cy="60.5" r="2.4" fill="#a52a2a"/>
<circle cx="564.5" cy="60.5" r="2.4" fill="#a52a2a"/>
<circle cx="580.5" cy="60.5" r="2.4" fill="#a52a2a"/>
<circle cx="596.5" cy="60.5" r="2.4" fill="#a52a2a"/>
<circle cx="612.5" cy="60.5" r="2.4" fill="#a52a2a"/>
<circle cx="628.5" cy="60.5" r="2.4" fill="#a52a2a"/>
<circle cx="644.5" cy="60.5" r="2.4" fill="#a52a2a"/>
<circle cx="660.5" cy="60.5" r="2.4" fill="#a52a2a"/>
<circle cx="676.5" cy="60.5" r="2.4" fill="#a52a2a"/>
<circle cx="692.5" cy="60.5" r="2.4" fill="#a52a2a"/>
<circle cx="708.5" cy="60.5" r="2.4" fill="#a52a2a"/>
<circle cx="724.5" cy="60.5" r="2.4" fill="#a52a2a"/>
<circle cx="740.5" cy="60.5" r="2.4" fill="#a52a2a"/>
<circle cx="756.5" cy="60.5" r="2.4" fill="#a52a2a"/>
<circle cx="772.5" cy="60.5" r="2.4" fill="#a52a2a"/>
<circle cx="788.5" cy="60.5" r="2.4" fill="#a52a2a"/>
<circle cx="4.5" cy="75.5" r="2.4" fill="#a52a2a"/>
<circle cx="20.5" cy="75.5" r="2.4" fill="#a52a2a"/>
<circle cx="36.5" cy="75.5" r="2.4" fill="#a52a2a"/>
<circle cx="52.5" cy="75.5" r="2.4" fill="#a52a2a"/>
<circle cx="68.5" cy="75.5" r="2.4" fill="#a52a2a"/>
<circle cx="868.5" cy="175.5" r="2.4" fill="#a52a2a"/>
<circle cx="884.5" cy="175.5" r="2.4" fill="#a52a2a"/>
<circle cx="900.5" cy="175.5" r="2.4" fill="#a52a2a"/>
<circle cx="916.5" cy="175.5" r="2.4" fill="#a52a2a"/>
<circle cx="932.5" cy="175.5" r="2.4" fill="#a52a2a"/>
<circle cx="948.5" cy="175.5" r="2.4" fill="#a52a2a"/>
<circle cx="964.5" cy="175.5" r="2.4" fill="#a52a2a"/>
<circle cx="980.5" cy="175.5" r="2.4" fill="#a52a2a"/>
<circle cx="996.5" cy="175.5" r="2.4" fill="#a52a2a"/>
<circle cx="1012.5" cy="175.5" r="2.4" fill="#a52a2a"/>
<circle cx="1028.5" cy="175.5" r="2.4" fill="#a52a2a"/>
<circle cx="1044.5" cy="175.5" r="2.4" fill="#a52a2a"/>
<circle cx="1060.5" cy="175.5" r="2.4" fill="#a52a2a"/>
<circle cx="1076.5" cy="175.5" r="2.4" fill="#a52a2a"/>
<circle cx="1092.5" cy="175.5" r="2.4" fill="#a52a2a"/>
<circle cx="1108.5" cy="175.5" r="2.4" fill="#a52a2a"/>
<circle cx="1124.5" cy="175.5" r="2.4" fill="#a52a2a"/>
<circle cx="1140.5" cy="175.5" r="2.4" fill="#a52a2a"/>
<circle cx="1156.5" cy="175.5" r="2.4" fill="#a52a2a"/>
<circle cx="1172.5" cy="175.5" r="2.4" fill="#a52a2a"/>
<circle cx="1188.5" cy="175.5" r="2.4" fill="#a52a2a"/>
<circle cx="1204.5" cy="175.5" r="2.4" fill="#a52a2a"/>
<circle cx="1220.5" cy="175.5" r="2.4" fill="#a52a2a"/>
<circle cx="1236.5" cy="175.5" r="2.4" fill="#a52a2a"/>
<circle cx="1252.5" cy="175.5" r="2.4" fill="#a52a2a"/>
<circle cx="1268.5" cy="175.5" r="2.4" fill="#a52a2a"/>
<circle cx="1284.5" cy="175.5" r="2.4" fill="#a52a2a"/>
<circle cx="1300.5" cy="175.5" r="2.4" fill="#a52a2a"/>
<circle cx="1316.5" cy="175.5" r="2.4" fill="#a52a2a"/>
<circle cx="1332.5" cy="175.5" r="2.4" fill="#a52a2a"/>
<circle cx="1348.5" cy="175.5" r="2.4" fill="#a52a2a"/>
<circle cx="1364.5" cy="175.5" r="2.4" fill="#a52a2a"/>
<circle cx="1380.5" cy="175.5" r="2.4" fill="#a52a2a"/>
<circle cx="1396.5" cy="175.5" r="2.4" fill="#a52a2a"/>
<circle cx="820.5" cy="222.3" r="2.4" fill="#a52a2a"/>
<circle cx="836.5" cy="222.3" r="2.4" fill="#a52a2a"/>
<circle cx="852.5" cy="222.3" r="2.4" fill="#a52a2a"/>
<circle cx="804.5" cy="188.2" r="2.4" fill="#a52a2a"/>
<circle cx="1412.5" cy="365.4" r="2.4" fill="#a52a2a"/>
<circle cx="772.9" cy="184.0" r="3.9" fill="#ff6a55"/>
<circle cx="1317.0" cy="340.9" r="3.9" fill="#ff6a55"/>
<circle cx="1333.0" cy="340.9" r="3.9" fill="#ff6a55"/>
<circle cx="1349.0" cy="340.9" r="3.9" fill="#ff6a55"/>
<circle cx="1365.0" cy="340.9" r="3.9" fill="#ff6a55"/>
<circle cx="1381.0" cy="340.9" r="3.9" fill="#ff6a55"/>
<circle cx="84.5" cy="93" r="4" fill="#32cd32"/>
<circle cx="853.0" cy="214.8" r="4" fill="#32cd32"/>
<path d="M795.7,179.9 L781.5,190.9" stroke="#f01018" stroke-width="4.6" stroke-linecap="round" fill="none"/>
<path d="M783.9,178.3 Q787.5,183.9 794.9,190.5" stroke="#f01018" stroke-width="3.6" stroke-linecap="round" fill="none"/>
<path d="M1403.8,336.5 L1389.6,347.5" stroke="#f01018" stroke-width="4.6" stroke-linecap="round" fill="none"/>
<path d="M1392.0,334.9 Q1395.6,340.5 1403.0,347.1" stroke="#f01018" stroke-width="3.6" stroke-linecap="round" fill="none"/>
<text id="tp1" transform="translate(85.13,54.50) scale(0.552,1)" font-family="&quot;Liberation Sans&quot;, Arial, sans-serif" font-weight="bold" font-size="25" letter-spacing="4.76" fill="#a52a2a">TP</text>
<use href="#tp1" x="-1.41" y="-0.5"/>
<use href="#tp1" x="0" y="-0.5"/>
<use href="#tp1" x="1.41" y="-0.5"/>
<use href="#tp1" x="-1.41" y="0.5"/>
<use href="#tp1" x="0" y="0.5"/>
<use href="#tp1" x="1.41" y="0.5"/>
<use href="#tp1" x="-0.7" y="0"/>
<use href="#tp1" x="0.7" y="0"/>
<text id="tp2" transform="translate(-10.47,97.10) scale(0.552,1)" font-family="&quot;Liberation Sans&quot;, Arial, sans-serif" font-weight="bold" font-size="25" letter-spacing="4.76" fill="#a52a2a">TP</text>
<use href="#tp2" x="-1.41" y="-0.5"/>
<use href="#tp2" x="0" y="-0.5"/>
<use href="#tp2" x="1.41" y="-0.5"/>
<use href="#tp2" x="-1.41" y="0.5"/>
<use href="#tp2" x="0" y="0.5"/>
<use href="#tp2" x="1.41" y="0.5"/>
<use href="#tp2" x="-0.7" y="0"/>
<use href="#tp2" x="0.7" y="0"/>
<text id="tp3" transform="translate(789.73,182.20) scale(0.552,1)" font-family="&quot;Liberation Sans&quot;, Arial, sans-serif" font-weight="bold" font-size="25" letter-spacing="4.76" fill="#a52a2a">TP</text>
<use href="#tp3" x="-1.41" y="-0.5"/>
<use href="#tp3" x="0" y="-0.5"/>
<use href="#tp3" x="1.41" y="-0.5"/>
<use href="#tp3" x="-1.41" y="0.5"/>
<use href="#tp3" x="0" y="0.5"/>
<use href="#tp3" x="1.41" y="0.5"/>
<use href="#tp3" x="-0.7" y="0"/>
<use href="#tp3" x="0.7" y="0"/>
<text id="tp4" transform="translate(853.23,169.50) scale(0.552,1)" font-family="&quot;Liberation Sans&quot;, Arial, sans-serif" font-weight="bold" font-size="25" letter-spacing="4.76" fill="#a52a2a">TP</text>
<use href="#tp4" x="-1.41" y="-0.5"/>
<use href="#tp4" x="0" y="-0.5"/>
<use href="#tp4" x="1.41" y="-0.5"/>
<use href="#tp4" x="-1.41" y="0.5"/>
<use href="#tp4" x="0" y="0.5"/>
<use href="#tp4" x="1.41" y="0.5"/>
<use href="#tp4" x="-0.7" y="0"/>
<use href="#tp4" x="0.7" y="0"/>
<text id="tp5" transform="translate(805.53,244.90) scale(0.552,1)" font-family="&quot;Liberation Sans&quot;, Arial, sans-serif" font-weight="bold" font-size="25" letter-spacing="4.76" fill="#a52a2a">TP</text>
<use href="#tp5" x="-1.41" y="-0.5"/>
<use href="#tp5" x="0" y="-0.5"/>
<use href="#tp5" x="1.41" y="-0.5"/>
<use href="#tp5" x="-1.41" y="0.5"/>
<use href="#tp5" x="0" y="0.5"/>
<use href="#tp5" x="1.41" y="0.5"/>
<use href="#tp5" x="-0.7" y="0"/>
<use href="#tp5" x="0.7" y="0"/>
<text id="tp6" transform="translate(1398.03,359.50) scale(0.552,1)" font-family="&quot;Liberation Sans&quot;, Arial, sans-serif" font-weight="bold" font-size="25" letter-spacing="4.76" fill="#a52a2a">TP</text>
<use href="#tp6" x="-1.41" y="-0.5"/>
<use href="#tp6" x="0" y="-0.5"/>
<use href="#tp6" x="1.41" y="-0.5"/>
<use href="#tp6" x="-1.41" y="0.5"/>
<use href="#tp6" x="0" y="0.5"/>
<use href="#tp6" x="1.41" y="0.5"/>
<use href="#tp6" x="-0.7" y="0"/>
<use href="#tp6" x="0.7" y="0"/>
<mask id="mred" maskUnits="userSpaceOnUse" x="-11" y="-11" width="22" height="22"><circle r="9.6" fill="#fff"/><path d="M-3.4,-11 h6.8 v6.5 h3.2 l-6.6,8 l-6.6,-8 h3.2Z" fill="#000"/><path d="M-6.6,2.3 h13.2 l-6.6,3.6Z" fill="#000"/></mask>
<mask id="mgrn" maskUnits="userSpaceOnUse" x="-11" y="-11" width="22" height="22"><circle r="9.7" fill="#fff"/><path d="M0,-9.7 l6.5,7.1 h-3.5 v13 h-6 v-13 h-3.5Z" fill="#000"/></mask>
<g transform="translate(820.7,169.6)"><circle r="9.6" fill="#8b0000" mask="url(#mred)"/><path d="M-2.5,-6.6 h5.1 v2.9 h3 l-5.6,5.9 l-5.6,-5.9 h3.1Z" fill="#e2451f"/></g>
<clipPath id="licon"><path d="M7,15 H17 V45 H5 V37.4 L6.6,36.5 L9.8,34.6 L7,32.8Z"/></clipPath>
<g clip-path="url(#licon)"><circle cx="3.4" cy="30.5" r="9.5" fill="#8b0000"/></g>
<rect x="6.2" y="21.5" width="0.8" height="7.5" fill="#f5a050"/>
<path d="M868.4,225.1 l5.4,5.3 h-2.8 v3.5 h-5.2 v-3.5 h-2.8Z" fill="#1560bd"/>
<g transform="translate(868.4,215.1)"><circle r="9.7" fill="#006400" mask="url(#mgrn)"/></g>
<g transform="translate(100.4,93.2)"><circle r="9.7" fill="#006400" mask="url(#mgrn)"/></g>
<line x1="822" y1="173" x2="868" y2="223" stroke="#ff4020" stroke-width="1.1" stroke-dasharray="2.5 4.5"/>
<path d="M1468.6,8 H1484.4 L1476.5,16.2Z" fill="#2f4f4f"/>
<line x1="738.2" y1="371" x2="841" y2="263" stroke="#ff0000" stroke-width="5" stroke-linecap="round"/>
<path d="M856.2,247.2 L845.2,269.6 L833.8,259.3Z" fill="#ff0000"/>
<text x="595.0" y="407" font-family="&quot;Liberation Sans&quot;, Arial, sans-serif" font-size="21.5" fill="#ff0000" text-anchor="start" textLength="25.2" lengthAdjust="spacingAndGlyphs" xml:space="preserve">Ну</text>
<text x="625.7" y="407" font-family="&quot;Liberation Sans&quot;, Arial, sans-serif" font-size="21.5" fill="#ff0000" text-anchor="start" textLength="11.6" lengthAdjust="spacingAndGlyphs" xml:space="preserve">и</text>
<text x="644.0" y="407" font-family="&quot;Liberation Sans&quot;, Arial, sans-serif" font-size="21.5" fill="#ff0000" text-anchor="start" textLength="39.8" lengthAdjust="spacingAndGlyphs" xml:space="preserve">шел</text>
<text x="689.4" y="407" font-family="&quot;Liberation Sans&quot;, Arial, sans-serif" font-size="21.5" fill="#ff0000" text-anchor="start" textLength="27.7" lengthAdjust="spacingAndGlyphs" xml:space="preserve">бы</text>
<text x="723.2" y="407" font-family="&quot;Liberation Sans&quot;, Arial, sans-serif" font-size="21.5" fill="#ff0000" text-anchor="start" textLength="46.0" lengthAdjust="spacingAndGlyphs" xml:space="preserve">себе</text>
<text x="774.3" y="407" font-family="&quot;Liberation Sans&quot;, Arial, sans-serif" font-size="21.5" fill="#ff0000" text-anchor="start" textLength="76.2" lengthAdjust="spacingAndGlyphs" xml:space="preserve">дальше</text>
<text x="857.7" y="407" font-family="&quot;Liberation Sans&quot;, Arial, sans-serif" font-size="21.5" fill="#ff0000" text-anchor="start" textLength="23.1" lengthAdjust="spacingAndGlyphs" xml:space="preserve">по</text>
<text x="887.9" y="407" font-family="&quot;Liberation Sans&quot;, Arial, sans-serif" font-size="21.5" fill="#ff0000" text-anchor="start" textLength="71.0" lengthAdjust="spacingAndGlyphs" xml:space="preserve">тренду</text>
<path d="M856.5,384.6 L856.5,407.3 L861.3,403.2 L865.2,410.6 L869.3,408.6 L866.6,402.3 L873.6,402.3Z" fill="none" stroke="#26283a" stroke-width="1.1" stroke-linejoin="miter"/>
<text x="1713.8" y="28.0" font-family="&quot;Liberation Sans&quot;, Arial, sans-serif" font-size="13" fill="#000" textLength="94.3" lengthAdjust="spacingAndGlyphs">Bot<tspan dy="-0.3">_</tspan><tspan dy="0.3">FF</tspan><tspan dy="-0.3">_</tspan><tspan dy="0.3">License</tspan></text>
<path d="M1816.5,21.5 v8 l-1.6,1.8 h3.2 l-1.6,-1.8" fill="#1a6fb8" stroke="#1a6fb8" stroke-width="1.3" stroke-linejoin="round"/>
<path d="M1819.6,23.5 v4.6 q0,1.2 1.6,1.6 q4.6,1 9.2,0 q1.6,-0.4 1.6,-1.6 v-4.6 l-6.3,2.8Z" fill="#cfe8fc" stroke="#1a6fb8" stroke-width="1.5" stroke-linejoin="round"/>
<path d="M1825.7,16.2 l10.4,4.7 l-10.4,4.7 l-10.4,-4.7Z" fill="#cfe8fc" stroke="#1a6fb8" stroke-width="1.5" stroke-linejoin="round"/>
<g shape-rendering="crispEdges"><rect x="1705" y="31" width="125" height="19" fill="#32cd32"/>
<path d="M1705,31 h125 v2 h-123 v17 h-2Z" fill="#4fe44f"/>
<path d="M1830,50 h-125 v-2 h123 v-16 h2Z" fill="#22a722"/></g>
<clipPath id="cb1"><rect x="1706.5" y="31" width="122.0" height="19"/></clipPath>
<text x="1767.5" y="46.8" text-anchor="middle" clip-path="url(#cb1)" font-family="&quot;Liberation Mono&quot;, &quot;DejaVu Sans Mono&quot;, monospace" font-size="18.35" fill="#6b6b73">Выкл.Торговля</text>
<g shape-rendering="crispEdges"><rect x="1705" y="54" width="60" height="19" fill="#a9a9a9"/>
<path d="M1705,54 h60 v2 h-58 v17 h-2Z" fill="#c6c6c6"/>
<path d="M1765,73 h-60 v-2 h58 v-16 h2Z" fill="#8a8a8a"/></g>
<clipPath id="cb2"><rect x="1707.6" y="54" width="54.8" height="19"/></clipPath>
<text x="1735.0" y="68.9" text-anchor="middle" clip-path="url(#cb2)" font-family="&quot;Liberation Mono&quot;, &quot;DejaVu Sans Mono&quot;, monospace" font-size="15" fill="#101020">Вкл.BUY</text>
<g shape-rendering="crispEdges"><rect x="1770" y="54" width="60" height="19" fill="#a9a9a9"/>
<path d="M1770,54 h60 v2 h-58 v17 h-2Z" fill="#c6c6c6"/>
<path d="M1830,73 h-60 v-2 h58 v-16 h2Z" fill="#8a8a8a"/></g>
<clipPath id="cb3"><rect x="1772.6" y="54" width="54.8" height="19"/></clipPath>
<text x="1800.0" y="68.9" text-anchor="middle" clip-path="url(#cb3)" font-family="&quot;Liberation Mono&quot;, &quot;DejaVu Sans Mono&quot;, monospace" font-size="15" fill="#101020">Вкл.SELL</text>
<g shape-rendering="crispEdges"><rect x="1705" y="77" width="60" height="19" fill="#32cd32"/>
<path d="M1705,77 h60 v2 h-58 v17 h-2Z" fill="#4fe44f"/>
<path d="M1765,96 h-60 v-2 h58 v-16 h2Z" fill="#22a722"/></g>
<clipPath id="cb4"><rect x="1707.6" y="77" width="54.8" height="19"/></clipPath>
<text x="1735.0" y="91.9" text-anchor="middle" clip-path="url(#cb4)" font-family="&quot;Liberation Mono&quot;, &quot;DejaVu Sans Mono&quot;, monospace" font-size="15" fill="#668a6a">ВыклTREND</text>
<g shape-rendering="crispEdges"><rect x="1770" y="77" width="60" height="19" fill="#a9a9a9"/>
<path d="M1770,77 h60 v2 h-58 v17 h-2Z" fill="#c6c6c6"/>
<path d="M1830,96 h-60 v-2 h58 v-16 h2Z" fill="#8a8a8a"/></g>
<clipPath id="cb5"><rect x="1772.6" y="77" width="54.8" height="19"/></clipPath>
<text x="1800.0" y="91.9" text-anchor="middle" clip-path="url(#cb5)" font-family="&quot;Liberation Mono&quot;, &quot;DejaVu Sans Mono&quot;, monospace" font-size="15" fill="#101020" stroke="#101020" stroke-width="0.3">ВклФильтр</text>
<rect x="12" y="15" width="24" height="17" fill="#fff"/>
<path d="M24,16.1 h-8.6 q-2,0 -2,2 v10.6 q0,2 2,2 h8.6" fill="#fff" stroke="#e0403a" stroke-width="1.4"/>
<path d="M24,16.1 h8.2 q2,0 2,2 v10.6 q0,2 -2,2 h-8.2" fill="#fff" stroke="#1c6db8" stroke-width="1.4"/>
<rect x="15.3" y="18.4" width="7.6" height="1.6" fill="#e0403a"/>
<rect x="24.3" y="18.4" width="7.6" height="1.6" fill="#1c6db8"/>
<rect x="15.3" y="20.0" width="7.6" height="2.9" fill="#ffe0d8"/>
<rect x="24.3" y="20.0" width="7.6" height="2.9" fill="#c8e8ff"/>
<rect x="15.3" y="22.9" width="7.6" height="1.6" fill="#e0403a"/>
<rect x="24.3" y="22.9" width="7.6" height="1.6" fill="#1c6db8"/>
<rect x="15.3" y="24.5" width="7.6" height="2.9" fill="#ffe0d8"/>
<rect x="24.3" y="24.5" width="7.6" height="2.9" fill="#c8e8ff"/>
<rect x="15.3" y="27.4" width="7.6" height="1.6" fill="#e0403a"/>
<rect x="24.3" y="27.4" width="7.6" height="1.6" fill="#1c6db8"/>
<rect x="43.5" y="14.5" width="24.5" height="17.5" fill="#fff"/>
<path d="M45.5,30.5 v-13 q0,-1.7 1.7,-1.7 h1.6 q1.7,0 1.7,1.7 v4 h2.3 q1.7,0 1.7,1.7 v7.3 q0,0.8 -0.8,0.8 h-7.4 q-0.8,0 -0.8,-0.8Z" fill="#ffd9d0" stroke="#e0403a" stroke-width="1.5"/>
<path d="M66.2,30.5 v-13 q0,-1.7 -1.7,-1.7 h-1.6 q-1.7,0 -1.7,1.7 v4 h-2.3 q-1.7,0 -1.7,1.7 v7.3 q0,0.8 0.8,0.8 h7.4 q0.8,0 0.8,-0.8Z" fill="#bfe3ff" stroke="#1c6db8" stroke-width="1.5"/>
<rect x="52.8" y="16.2" width="6.2" height="2.9" rx="1.3" fill="#fff" stroke="#a0a0a0" stroke-width="1.2"/>
</g>
<g shape-rendering="crispEdges">
<line x1="4" y1="506.5" x2="1840" y2="506.5" stroke="#2f4f4f" stroke-width="1" stroke-dasharray="3 3"/>
<rect x="96" y="506" width="8" height="4" fill="#800080"/>
<rect x="112" y="506" width="8" height="4" fill="#800080"/>
<rect x="128" y="506" width="8" height="8" fill="#800080"/>
<rect x="144" y="506" width="8" height="8" fill="#800080"/>
<rect x="160" y="506" width="8" height="9" fill="#800080"/>
<rect x="176" y="506" width="8" height="11" fill="#800080"/>
<rect x="192" y="506" width="8" height="14" fill="#800080"/>
<rect x="208" y="506" width="8" height="15" fill="#800080"/>
<rect x="224" y="506" width="8" height="20" fill="#800080"/>
<rect x="240" y="506" width="8" height="30" fill="#800080"/>
<rect x="256" y="506" width="8" height="27" fill="#800080"/>
<rect x="272" y="506" width="8" height="30" fill="#800080"/>
<rect x="288" y="506" width="8" height="29" fill="#800080"/>
<rect x="304" y="506" width="8" height="27" fill="#800080"/>
<rect x="320" y="506" width="8" height="18" fill="#800080"/>
<rect x="336" y="506" width="8" height="14" fill="#800080"/>
<rect x="352" y="506" width="8" height="14" fill="#800080"/>
<rect x="368" y="506" width="8" height="15" fill="#800080"/>
<rect x="384" y="506" width="8" height="13" fill="#800080"/>
<rect x="400" y="506" width="8" height="17" fill="#800080"/>
<rect x="416" y="506" width="8" height="17" fill="#800080"/>
<rect x="432" y="506" width="8" height="11" fill="#800080"/>
<rect x="448" y="506" width="8" height="10" fill="#800080"/>
<rect x="464" y="506" width="8" height="7" fill="#800080"/>
<rect x="480" y="506" width="8" height="1" fill="#800080"/>
<rect x="496" y="506" width="8" height="3" fill="#800080"/>
<rect x="512" y="506" width="8" height="6" fill="#800080"/>
<rect x="528" y="506" width="8" height="2" fill="#800080"/>
<rect x="544" y="506" width="8" height="3" fill="#800080"/>
<rect x="560" y="506" width="8" height="11" fill="#800080"/>
<rect x="576" y="506" width="8" height="14" fill="#800080"/>
<rect x="592" y="506" width="8" height="11" fill="#800080"/>
<rect x="608" y="506" width="8" height="4" fill="#800080"/>
<rect x="624" y="506" width="8" height="3" fill="#800080"/>
<rect x="640" y="506" width="8" height="3" fill="#800080"/>
<rect x="656" y="506" width="8" height="6" fill="#800080"/>
<rect x="672" y="506" width="8" height="8" fill="#800080"/>
<rect x="688" y="506" width="8" height="5" fill="#800080"/>
<rect x="704" y="506" width="8" height="2" fill="#800080"/>
<rect x="720" y="506" width="8" height="3" fill="#800080"/>
<rect x="736" y="506" width="8" height="4" fill="#800080"/>
<rect x="752" y="506" width="8" height="2" fill="#800080"/>
<rect x="768" y="505" width="8" height="2" fill="#008080"/>
<rect x="784" y="506" width="8" height="2" fill="#800080"/>
<rect x="800" y="499" width="8" height="8" fill="#008080"/>
<rect x="816" y="501" width="8" height="6" fill="#008080"/>
<rect x="832" y="504" width="8" height="3" fill="#008080"/>
<rect x="848" y="506" width="8" height="7" fill="#800080"/>
<rect x="864" y="506" width="8" height="15" fill="#800080"/>
<rect x="880" y="506" width="8" height="11" fill="#800080"/>
<rect x="896" y="506" width="8" height="15" fill="#800080"/>
<rect x="912" y="506" width="8" height="12" fill="#800080"/>
<rect x="928" y="506" width="8" height="14" fill="#800080"/>
<rect x="944" y="506" width="8" height="33" fill="#800080"/>
<rect x="960" y="506" width="8" height="36" fill="#800080"/>
<rect x="976" y="506" width="8" height="32" fill="#800080"/>
<rect x="992" y="506" width="8" height="22" fill="#800080"/>
<rect x="1008" y="506" width="8" height="30" fill="#800080"/>
<rect x="1024" y="506" width="8" height="27" fill="#800080"/>
<rect x="1040" y="506" width="8" height="36" fill="#800080"/>
<rect x="1056" y="506" width="8" height="36" fill="#800080"/>
<rect x="1072" y="506" width="8" height="40" fill="#800080"/>
<rect x="1088" y="506" width="8" height="36" fill="#800080"/>
<rect x="1104" y="506" width="8" height="32" fill="#800080"/>
<rect x="1120" y="506" width="8" height="35" fill="#800080"/>
<rect x="1136" y="506" width="8" height="26" fill="#800080"/>
<rect x="1152" y="506" width="8" height="24" fill="#800080"/>
<rect x="1168" y="506" width="8" height="23" fill="#800080"/>
<rect x="1184" y="506" width="8" height="8" fill="#800080"/>
<rect x="1200" y="506" width="8" height="3" fill="#800080"/>
<rect x="1216" y="506" width="8" height="3" fill="#800080"/>
<rect x="1232" y="506" width="8" height="12" fill="#800080"/>
<rect x="1248" y="506" width="8" height="5" fill="#800080"/>
<rect x="1264" y="506" width="8" height="7" fill="#800080"/>
<rect x="1280" y="506" width="8" height="5" fill="#800080"/>
<rect x="1296" y="506" width="8" height="3" fill="#800080"/>
<rect x="1312" y="506" width="8" height="1" fill="#008080"/>
<rect x="1328" y="506" width="8" height="1" fill="#008080"/>
<rect x="1344" y="504" width="8" height="3" fill="#008080"/>
<rect x="1360" y="505" width="8" height="2" fill="#008080"/>
<rect x="1376" y="506" width="8" height="1" fill="#008080"/>
<rect x="1392" y="506" width="8" height="3" fill="#800080"/>
<rect x="1408" y="506" width="8" height="5" fill="#800080"/>
<rect x="1424" y="506" width="8" height="1" fill="#800080"/>
<rect x="1440" y="506" width="8" height="2" fill="#800080"/>
<rect x="1456" y="506" width="8" height="3" fill="#800080"/>
<rect x="1472" y="506" width="8" height="4" fill="#800080"/>
<rect x="1488" y="506" width="8" height="3" fill="#800080"/>
<rect x="1504" y="506" width="8" height="3" fill="#800080"/>
<rect x="1520" y="506" width="8" height="2" fill="#800080"/>
<rect x="1536" y="506" width="8" height="1" fill="#800080"/>
<rect x="1552" y="506" width="8" height="1" fill="#800080"/>
<rect x="1568" y="506" width="8" height="1" fill="#800080"/>
<rect x="1584" y="506" width="8" height="1" fill="#800080"/>
<rect x="1600" y="506" width="8" height="1" fill="#800080"/>
<rect x="1616" y="506" width="8" height="1" fill="#800080"/>
<rect x="1632" y="506" width="8" height="3" fill="#800080"/>
<rect x="1648" y="506" width="8" height="3" fill="#800080"/>
<rect x="1664" y="506" width="8" height="3" fill="#800080"/>
<rect x="1680" y="506" width="8" height="3" fill="#800080"/>
<rect x="1696" y="506" width="8" height="2" fill="#800080"/>
<rect x="1712" y="506" width="8" height="2" fill="#800080"/>
<rect x="1728" y="506" width="8" height="3" fill="#800080"/>
<rect x="1744" y="506" width="8" height="2" fill="#800080"/>
<rect x="1760" y="506" width="8" height="3" fill="#800080"/>
<rect x="1776" y="506" width="8" height="3" fill="#800080"/>
<rect x="1792" y="506" width="8" height="3" fill="#800080"/>
<rect x="1808" y="506" width="8" height="2" fill="#800080"/>
<rect x="1824" y="506" width="8" height="2" fill="#800080"/>
<rect x="5" y="491" width="294" height="17" fill="#ffffff"/>
<rect x="5" y="493" width="3" height="14" fill="#008080"/>
<path d="M5,545 l7,7 h-7Z" fill="#2f4f4f"/>
</g>
<text x="7.7" y="504.6" font-family="&quot;Liberation Sans&quot;, Arial, sans-serif" font-size="13" fill="#000" text-anchor="start" textLength="23.4" lengthAdjust="spacingAndGlyphs" xml:space="preserve">CD:</text>
<text x="35.5" y="504.6" font-family="&quot;Liberation Sans&quot;, Arial, sans-serif" font-size="13" fill="#000" text-anchor="start" textLength="16.5" lengthAdjust="spacingAndGlyphs" xml:space="preserve">No</text>
<text x="56.4" y="504.6" font-family="&quot;Liberation Sans&quot;, Arial, sans-serif" font-size="13" fill="#000" text-anchor="start" textLength="26.4" lengthAdjust="spacingAndGlyphs" xml:space="preserve">data</text>
<text x="88.0" y="504.6" font-family="&quot;Liberation Sans&quot;, Arial, sans-serif" font-size="13" fill="#000" text-anchor="start" textLength="16.5" lengthAdjust="spacingAndGlyphs" xml:space="preserve">for</text>
<text x="108.9" y="504.6" font-family="&quot;Liberation Sans&quot;, Arial, sans-serif" font-size="13" fill="#000" text-anchor="start" textLength="59.7" lengthAdjust="spacingAndGlyphs" xml:space="preserve">timeframe</text>
<text x="173.0" y="504.6" font-family="&quot;Liberation Sans&quot;, Arial, sans-serif" font-size="13" fill="#000" text-anchor="start" textLength="18.1" lengthAdjust="spacingAndGlyphs" xml:space="preserve">M1</text>
<text x="196.4" y="504.6" font-family="&quot;Liberation Sans&quot;, Arial, sans-serif" font-size="13" fill="#000" text-anchor="start" textLength="34.7" lengthAdjust="spacingAndGlyphs" xml:space="preserve">557.0</text>
<text x="235.5" y="504.6" font-family="&quot;Liberation Sans&quot;, Arial, sans-serif" font-size="13" fill="#000" text-anchor="start" textLength="19.8" lengthAdjust="spacingAndGlyphs" xml:space="preserve">0.0</text>
<text x="259.7" y="504.6" font-family="&quot;Liberation Sans&quot;, Arial, sans-serif" font-size="13" fill="#000" text-anchor="start" textLength="32.3" lengthAdjust="spacingAndGlyphs" xml:space="preserve">-63.0</text>
<g shape-rendering="crispEdges">
<rect x="1841" y="32" width="4" height="1" fill="#000"/>
<rect x="1841" y="96" width="4" height="1" fill="#000"/>
<rect x="1841" y="161" width="4" height="1" fill="#000"/>
<rect x="1841" y="226" width="4" height="1" fill="#000"/>
<rect x="1841" y="290" width="4" height="1" fill="#000"/>
<rect x="1841" y="355" width="4" height="1" fill="#000"/>
<rect x="1841" y="419" width="4" height="1" fill="#000"/>
<rect x="1841" y="487" width="4" height="1" fill="#000"/>
<rect x="1841" y="506" width="4" height="1" fill="#000"/>
<rect x="1841" y="552" width="4" height="1" fill="#000"/>
<rect x="4" y="553" width="1" height="4" fill="#000"/>
<rect x="132" y="553" width="1" height="4" fill="#000"/>
<rect x="260" y="553" width="1" height="4" fill="#000"/>
<rect x="388" y="553" width="1" height="4" fill="#000"/>
<rect x="516" y="553" width="1" height="4" fill="#000"/>
<rect x="644" y="553" width="1" height="4" fill="#000"/>
<rect x="772" y="553" width="1" height="4" fill="#000"/>
<rect x="900" y="553" width="1" height="4" fill="#000"/>
<rect x="1028" y="553" width="1" height="4" fill="#000"/>
<rect x="1156" y="553" width="1" height="4" fill="#000"/>
<rect x="1284" y="553" width="1" height="4" fill="#000"/>
<rect x="1412" y="553" width="1" height="4" fill="#000"/>
<rect x="1540" y="553" width="1" height="4" fill="#000"/>
<rect x="1668" y="553" width="1" height="4" fill="#000"/>
<rect x="1796" y="553" width="1" height="4" fill="#000"/>
</g>
<text x="1846" y="38" font-family="&quot;Liberation Sans&quot;, Arial, sans-serif" font-size="13" fill="#000" text-anchor="start" textLength="51.5" lengthAdjust="spacingAndGlyphs" xml:space="preserve">4216.75</text>
<text x="1846" y="102" font-family="&quot;Liberation Sans&quot;, Arial, sans-serif" font-size="13" fill="#000" text-anchor="start" textLength="51.5" lengthAdjust="spacingAndGlyphs" xml:space="preserve">4203.75</text>
<text x="1846" y="167" font-family="&quot;Liberation Sans&quot;, Arial, sans-serif" font-size="13" fill="#000" text-anchor="start" textLength="51.5" lengthAdjust="spacingAndGlyphs" xml:space="preserve">4190.75</text>
<text x="1846" y="232" font-family="&quot;Liberation Sans&quot;, Arial, sans-serif" font-size="13" fill="#000" text-anchor="start" textLength="51.5" lengthAdjust="spacingAndGlyphs" xml:space="preserve">4177.75</text>
<text x="1846" y="296" font-family="&quot;Liberation Sans&quot;, Arial, sans-serif" font-size="13" fill="#000" text-anchor="start" textLength="51.5" lengthAdjust="spacingAndGlyphs" xml:space="preserve">4164.75</text>
<text x="1846" y="361" font-family="&quot;Liberation Sans&quot;, Arial, sans-serif" font-size="13" fill="#000" text-anchor="start" textLength="51.5" lengthAdjust="spacingAndGlyphs" xml:space="preserve">4151.75</text>
<text x="1846" y="425" font-family="&quot;Liberation Sans&quot;, Arial, sans-serif" font-size="13" fill="#000" text-anchor="start" textLength="51.5" lengthAdjust="spacingAndGlyphs" xml:space="preserve">4138.75</text>
<rect x="1843" y="149" width="60" height="17" fill="#2f4f4f" shape-rendering="crispEdges"/>
<text x="1847.5" y="162" font-family="&quot;Liberation Sans&quot;, Arial, sans-serif" font-size="13" fill="#fff" text-anchor="start" textLength="51.5" lengthAdjust="spacingAndGlyphs" xml:space="preserve">4191.50</text>
<text x="1846" y="500.6" font-family="&quot;Liberation Sans&quot;, Arial, sans-serif" font-size="13" fill="#000" text-anchor="start" textLength="43.5" lengthAdjust="spacingAndGlyphs" xml:space="preserve">6361.2</text>
<text x="1846" y="511" font-family="&quot;Liberation Sans&quot;, Arial, sans-serif" font-size="13" fill="#000" text-anchor="start" textLength="19.3" lengthAdjust="spacingAndGlyphs" xml:space="preserve">0.0</text>
<text x="1846" y="549.3" font-family="&quot;Liberation Sans&quot;, Arial, sans-serif" font-size="13" fill="#000" text-anchor="start" textLength="56.3" lengthAdjust="spacingAndGlyphs" xml:space="preserve">-15006.2</text>
<text x="4.7" y="569.7" font-family="&quot;Liberation Sans&quot;, Arial, sans-serif" font-size="13" fill="#000" text-anchor="start" textLength="75.8" lengthAdjust="spacingAndGlyphs" xml:space="preserve">26 Apr 2022</text>
<text x="132.7" y="569.7" font-family="&quot;Liberation Sans&quot;, Arial, sans-serif" font-size="13" fill="#000" text-anchor="start" textLength="80.5" lengthAdjust="spacingAndGlyphs" xml:space="preserve">26 Apr 19:08</text>
<text x="260.7" y="569.7" font-family="&quot;Liberation Sans&quot;, Arial, sans-serif" font-size="13" fill="#000" text-anchor="start" textLength="80.5" lengthAdjust="spacingAndGlyphs" xml:space="preserve">26 Apr 19:16</text>
<text x="388.7" y="569.7" font-family="&quot;Liberation Sans&quot;, Arial, sans-serif" font-size="13" fill="#000" text-anchor="start" textLength="80.5" lengthAdjust="spacingAndGlyphs" xml:space="preserve">26 Apr 19:24</text>
<text x="516.7" y="569.7" font-family="&quot;Liberation Sans&quot;, Arial, sans-serif" font-size="13" fill="#000" text-anchor="start" textLength="80.5" lengthAdjust="spacingAndGlyphs" xml:space="preserve">26 Apr 19:32</text>
<text x="644.7" y="569.7" font-family="&quot;Liberation Sans&quot;, Arial, sans-serif" font-size="13" fill="#000" text-anchor="start" textLength="80.5" lengthAdjust="spacingAndGlyphs" xml:space="preserve">26 Apr 19:40</text>
<text x="772.7" y="569.7" font-family="&quot;Liberation Sans&quot;, Arial, sans-serif" font-size="13" fill="#000" text-anchor="start" textLength="80.5" lengthAdjust="spacingAndGlyphs" xml:space="preserve">26 Apr 19:48</text>
<text x="900.7" y="569.7" font-family="&quot;Liberation Sans&quot;, Arial, sans-serif" font-size="13" fill="#000" text-anchor="start" textLength="80.5" lengthAdjust="spacingAndGlyphs" xml:space="preserve">26 Apr 19:56</text>
<text x="1028.7" y="569.7" font-family="&quot;Liberation Sans&quot;, Arial, sans-serif" font-size="13" fill="#000" text-anchor="start" textLength="80.5" lengthAdjust="spacingAndGlyphs" xml:space="preserve">26 Apr 20:04</text>
<text x="1156.7" y="569.7" font-family="&quot;Liberation Sans&quot;, Arial, sans-serif" font-size="13" fill="#000" text-anchor="start" textLength="80.5" lengthAdjust="spacingAndGlyphs" xml:space="preserve">26 Apr 20:12</text>
<text x="1284.7" y="569.7" font-family="&quot;Liberation Sans&quot;, Arial, sans-serif" font-size="13" fill="#000" text-anchor="start" textLength="80.5" lengthAdjust="spacingAndGlyphs" xml:space="preserve">26 Apr 20:20</text>
<text x="1412.7" y="569.7" font-family="&quot;Liberation Sans&quot;, Arial, sans-serif" font-size="13" fill="#000" text-anchor="start" textLength="80.5" lengthAdjust="spacingAndGlyphs" xml:space="preserve">26 Apr 20:28</text>
<text x="1540.7" y="569.7" font-family="&quot;Liberation Sans&quot;, Arial, sans-serif" font-size="13" fill="#000" text-anchor="start" textLength="80.5" lengthAdjust="spacingAndGlyphs" xml:space="preserve">26 Apr 20:36</text>
<text x="1668.7" y="569.7" font-family="&quot;Liberation Sans&quot;, Arial, sans-serif" font-size="13" fill="#000" text-anchor="start" textLength="80.5" lengthAdjust="spacingAndGlyphs" xml:space="preserve">26 Apr 20:44</text>
<text x="1796.7" y="569.7" font-family="&quot;Liberation Sans&quot;, Arial, sans-serif" font-size="13" fill="#000" text-anchor="start" textLength="80.5" lengthAdjust="spacingAndGlyphs" xml:space="preserve">26 Apr 20:52</text>
<g shape-rendering="crispEdges">
<rect x="0" y="579" width="1919" height="1" fill="#e8e8e8"/>
<rect x="0" y="580" width="1919" height="1" fill="#f4f4f4"/>
<rect x="1" y="581" width="1918" height="1" fill="#000"/>
<rect x="1" y="581" width="1" height="29" fill="#696969"/>
<rect x="0" y="580" width="1" height="31" fill="#a0a0a0"/>
<rect x="2" y="610" width="1917" height="1" fill="#e3e3e3"/>
<rect x="0" y="611" width="1919" height="1" fill="#ffffff"/>
<rect x="2" y="582" width="1" height="28" fill="#ffffff"/>
<rect x="1918" y="582" width="1" height="29" fill="#e3e3e3"/>
<rect x="138" y="579" width="130" height="31" fill="#ffffff"/>
<rect x="137" y="581" width="1" height="29" fill="#000"/>
<rect x="268" y="581" width="1" height="29" fill="#000"/>
<rect x="137" y="609" width="132" height="1" fill="#000"/>
</g>
<text x="19.5" y="603.6" font-family="&quot;Liberation Sans&quot;, Arial, sans-serif" font-size="17" fill="#808080" text-anchor="start" textLength="99.3" lengthAdjust="spacingAndGlyphs" xml:space="preserve">MESM22,M1</text>
<text x="152.4" y="602.8" font-family="&quot;Liberation Sans&quot;, Arial, sans-serif" font-size="17" fill="#000" text-anchor="start" textLength="99.3" lengthAdjust="spacingAndGlyphs" xml:space="preserve">MESM22,M1</text>

<path d="M1878,573 l0,0" fill="none"/>
<path d="M1876.5,581 v0" fill="none"/>
<path d="M1868.3,596.7 l4.6,-4.6 v9.2Z" fill="#b8b8b8"/>
<path d="M1904.2,596.7 l-4.6,-4.6 v9.2Z" fill="#b8b8b8"/>
</svg>
</body></html>
